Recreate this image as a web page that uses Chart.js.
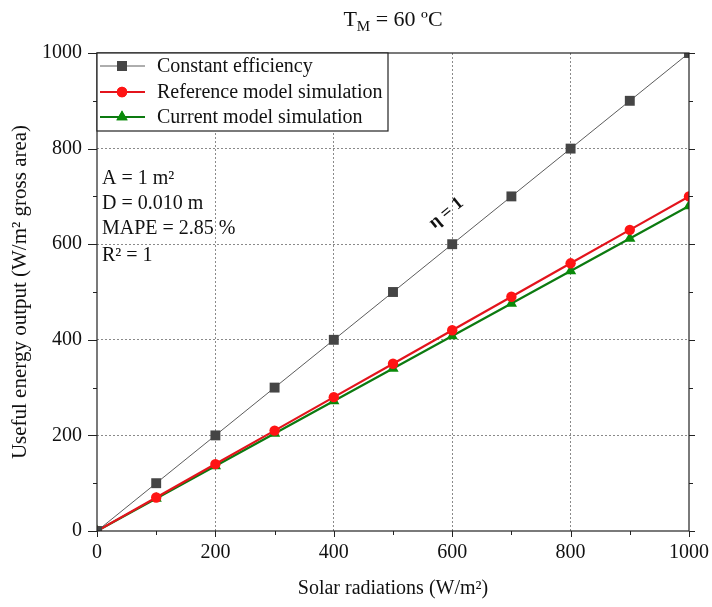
<!DOCTYPE html>
<html><head><meta charset="utf-8">
<script src="https://cdn.jsdelivr.net/npm/chart.js@4/dist/chart.umd.min.js"></script>
<style>html,body{margin:0;padding:0;background:#fff}</style>
</head><body>
<canvas id="c" width="712" height="607" style="width:712px;height:607px;display:block"></canvas>
<script>
const radiation = [0,100,200,300,400,500,600,700,800,900,1000];
const constantEfficiency = [0,100,200,300,400,500,600,700,800,900,1000];
const referenceModel = [0,70,140,210,280,350,420,490,560,630,700];
const currentModel = [0,68,136,204,272,340,408,476,544,612,680];
const seriesNames = ['Constant efficiency','Reference model simulation','Current model simulation'];
const xTickLabels = ['0','200','400','600','800','1000'];
const yTickLabels = ['0','200','400','600','800','1000'];
const notes = ['A = 1 m\u00B2','D = 0.010 m','MAPE = 2.85 %','R\u00B2 = 1'];
const etaLabel = '\u03B7 = 1';
const titleMain = 'T', titleSub = 'M', titleRest = ' = 60 \u00BAC';

const FONT = "'Liberation Serif', 'Times New Roman', serif";
const colors = {
  gray: {line:'#4a4a4a', pt:'#454545'},
  red: {line:'#e3141c', pt:'#ff1414'},
  green: {line:'#0c7a10', pt:'#0a8a0a'}
};

function pts(ys){ return radiation.map((x,i)=>({x:x,y:ys[i]})); }

const datasets = [
  {label:seriesNames[0], data:pts(constantEfficiency), borderColor:colors.gray.line, borderWidth:0.9,
   pointStyle:'rect', pointRadius:7, pointBackgroundColor:colors.gray.pt, pointBorderColor:colors.gray.pt, pointBorderWidth:0},
  {label:seriesNames[1], data:pts(referenceModel), borderColor:colors.red.line, borderWidth:2.2,
   pointStyle:'circle', pointRadius:5.2, pointBackgroundColor:colors.red.pt, pointBorderColor:colors.red.pt, pointBorderWidth:0},
  {label:seriesNames[2], data:pts(currentModel), borderColor:colors.green.line, borderWidth:2.2,
   pointStyle:'triangle', pointRadius:6.5, pointBackgroundColor:colors.green.pt, pointBorderColor:colors.green.pt, pointBorderWidth:0}
];

function gridColor(ctx){
  const v = ctx.tick ? ctx.tick.value : null;
  if (v === null) return 'transparent';
  if (v % 200 === 0 && v !== 0 && v !== 1000) return '#8a8a8a';
  return 'transparent';
}

const decor = {
  id:'decor',
  afterDraw(chart){
    const {ctx, chartArea:a, scales:{x, y}} = chart;
    ctx.save();
    // frame
    ctx.strokeStyle = '#222'; ctx.lineWidth = 1.2; ctx.setLineDash([]);
    ctx.strokeRect(a.left, a.top, a.right - a.left, a.bottom - a.top);
    // ticks
    ctx.lineWidth = 1;
    ctx.beginPath();
    for (let v = 0; v <= 1000; v += 100){
      const major = v % 200 === 0;
      const py = Math.round(y.getPixelForValue(v)) + 0.5;
      ctx.moveTo(a.left, py); ctx.lineTo(a.left - (major ? 9 : 4), py);
      ctx.moveTo(a.right, py); ctx.lineTo(a.right + (major ? 6 : 4), py);
      const px = Math.round(x.getPixelForValue(v)) + 0.5;
      ctx.moveTo(px, a.bottom); ctx.lineTo(px, a.bottom + (major ? 6 : 4));
    }
    ctx.stroke();
    // title
    ctx.fillStyle = '#111';
    ctx.textBaseline = 'alphabetic';
    ctx.font = '22px ' + FONT;
    const wT = ctx.measureText(titleMain).width;
    ctx.font = '15px ' + FONT;
    const wS = ctx.measureText(titleSub).width;
    ctx.font = '22px ' + FONT;
    const wR = ctx.measureText(titleRest).width;
    let tx = 393 - (wT + wS + wR) / 2;
    const ty = 26;
    ctx.textAlign = 'left';
    ctx.fillText(titleMain, tx, ty); tx += wT;
    ctx.font = '15px ' + FONT; ctx.fillText(titleSub, tx, ty + 5); tx += wS;
    ctx.font = '22px ' + FONT; ctx.fillText(titleRest, tx, ty);
    // legend
    const lx = a.left, ltop = a.top, lw = 291, lh = 78;
    ctx.fillStyle = '#fff';
    ctx.fillRect(lx, ltop, lw, lh);
    ctx.strokeStyle = '#222'; ctx.lineWidth = 1.2;
    ctx.strokeRect(lx, ltop, lw, lh);
    const rows = [66, 92, 117].map(v => v - 53 + a.top);
    chart.data.datasets.forEach((ds, i) => {
      const ry = rows[i];
      ctx.strokeStyle = ds.borderColor; ctx.lineWidth = ds.borderWidth;
      ctx.beginPath(); ctx.moveTo(lx + 3, ry); ctx.lineTo(lx + 48, ry); ctx.stroke();
      ctx.fillStyle = ds.pointBackgroundColor;
      Chart.helpers.drawPoint(ctx, {pointStyle: ds.pointStyle, radius: ds.pointRadius, borderWidth: 0}, lx + 25, ry);
      ctx.fill();
      ctx.fillStyle = '#111';
      ctx.font = '20px ' + FONT; ctx.textBaseline = 'middle'; ctx.textAlign = 'left';
      ctx.fillText(ds.label, lx + 60, ry + 1);
    });
    // notes
    ctx.fillStyle = '#111';
    ctx.font = '20px ' + FONT; ctx.textBaseline = 'middle'; ctx.textAlign = 'left';
    const ny = [179, 204, 229, 256];
    notes.forEach((t, i) => ctx.fillText(t, a.left + 5, ny[i] - 53 + a.top));
    // eta label
    const ex = x.getPixelForValue(590), ey = y.getPixelForValue(665);
    const ang = Math.atan2(y.getPixelForValue(1000) - y.getPixelForValue(0), x.getPixelForValue(1000) - x.getPixelForValue(0));
    ctx.translate(ex, ey); ctx.rotate(ang);
    ctx.font = 'bold 18px ' + FONT; ctx.textAlign = 'center'; ctx.textBaseline = 'middle';
    ctx.fillText(etaLabel, 0, 0);
    ctx.restore();
  }
};

new Chart(document.getElementById('c'), {
  type:'line',
  data:{datasets},
  options:{
    responsive:false, animation:false, devicePixelRatio:1,
    layout:{padding:{left:0, top:53, right:23, bottom:0}},
    plugins:{legend:{display:false}, tooltip:{enabled:false}, title:{display:false}},
    scales:{
      x:{type:'linear', min:0, max:1000,
        afterFit(s){ s.height = 76; s.paddingLeft = 0; s.paddingRight = 0; },
        afterBuildTicks(s){ s.ticks = radiation.map(v => ({value:v})); },
        ticks:{color:'#111', font:{family:FONT, size:20}, padding:10, maxRotation:0, autoSkip:false,
          callback:(v) => xTickLabels.includes(String(v)) ? String(v) : ''},
        grid:{color:gridColor, lineWidth:1, drawTicks:false},
        border:{display:false, dash:[2,2]},
        title:{display:true, text:'Solar radiations (W/m\u00B2)', color:'#111', font:{family:FONT, size:20}, padding:{top:0, bottom:6}}
      },
      y:{type:'linear', min:0, max:1000,
        afterFit(s){ s.width = 97; s.paddingTop = 0; s.paddingBottom = 0; },
        afterBuildTicks(s){ s.ticks = radiation.map(v => ({value:v})); },
        ticks:{color:'#111', font:{family:FONT, size:20}, padding:15, autoSkip:false,
          callback:(v) => yTickLabels.includes(String(v)) ? String(v) : ''},
        grid:{color:gridColor, lineWidth:1, drawTicks:false},
        border:{display:false, dash:[2,2]},
        title:{display:true, text:'Useful energy output (W/m\u00B2 gross area)', color:'#111', font:{family:FONT, size:21}, padding:{top:8, bottom:0}}
      }
    }
  },
  plugins:[decor]
});
</script>
</body></html>
